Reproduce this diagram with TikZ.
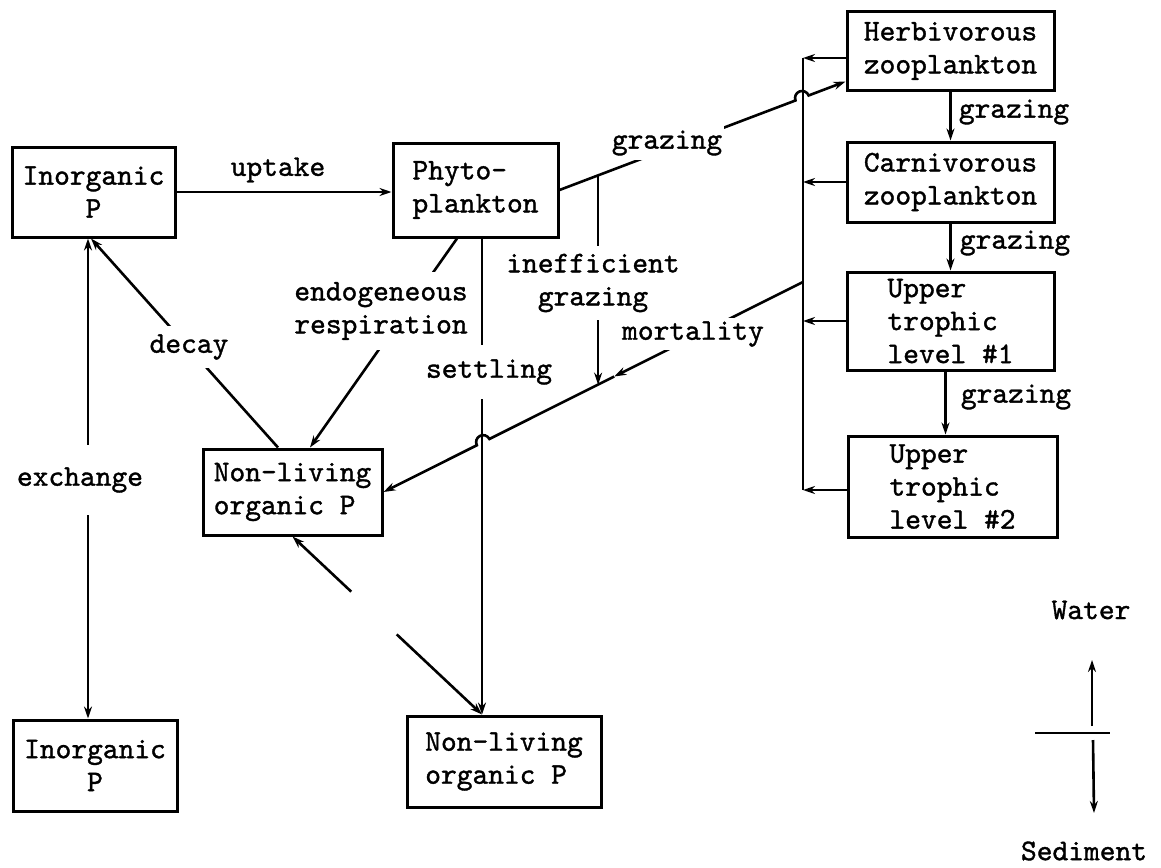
\documentclass[tikz,border=0pt]{standalone}
\usepackage{fontspec}
\setmonofont{lmmono10-regular.otf}[FakeBold=1.2]
\usetikzlibrary{calc,arrows.meta}
\begin{document}
\begin{tikzpicture}[x=1pt,y=-1pt,
  font=\ttfamily\fontsize{30}{33}\selectfont,
  box/.style={draw,line width=3pt,inner sep=3pt,align=left},
  flow/.style={line width=2.6pt},
  tip/.style={-{Stealth[length=12pt,width=8pt]}},
  lbl/.style={fill=white,inner xsep=2pt}
]
\fill[white] (0,0) rectangle (1161,867);
\useasboundingbox (0,0) rectangle (1161,867);

% compartments
\node[box,align=center,minimum width=163pt,minimum height=90pt] (inA) at (93.5,192) {Inorganic\\P};
\node[box,minimum width=165pt,minimum height=94pt] (phy) at (475.5,190) {Phyto-\\plankton};
\node[box,minimum width=207pt,minimum height=78pt] (herb) at (950.5,51) {Herbivorous\\zooplankton};
\node[box,minimum width=207pt,minimum height=80pt] (carn) at (950.5,182) {Carnivorous\\zooplankton};
\node[box,minimum width=207pt,minimum height=98pt] (up1) at (950.5,321) {Upper\\trophic\\level \#1};
\node[box,minimum width=209pt,minimum height=101pt] (up2) at (952.5,486.5) {Upper\\trophic\\level \#2};
\node[box,minimum width=179pt,minimum height=86pt] (nlA) at (292.5,492) {Non-living\\organic P};
\node[box,align=center,minimum width=164pt,minimum height=91pt] (inB) at (95,765.5) {Inorganic\\P};
\node[box,minimum width=194pt,minimum height=91pt] (nlB) at (504,761.5) {Non-living\\organic P};

% helper points
\coordinate (hzIn) at ($(herb.south west)+(0,-10)$);
\coordinate (b1) at (803,58);
\coordinate (b4) at (803,490);
\coordinate (mo) at (803,282);
\coordinate (s1) at ($(phy.south)+(6.5,0)$);
\coordinate (ex) at (88,0);

% uptake
\draw[flow,tip] (inA.east) -- (inA.east -| phy.west);
\node (lup) at (278,170) {uptake};

% grazing on phytoplankton, hopping over the return bus
\draw[flow,tip] (phy.east) -- ($(phy.east)!0.8252!(hzIn)$)
  arc[start angle=200.84,end angle=20.84,radius=7pt] -- (hzIn);

% return bus from the zooplankton and higher levels
\draw[flow] (b1) -- (b4);
\draw[flow,tip] (herb.west |- b1) -- (b1);
\draw[flow,tip] (carn.west) -- (carn.west -| b1);
\draw[flow,tip] (up1.west) -- (up1.west -| b1);
\draw[flow,tip] (up2.west |- b4) -- (b4);

% mortality, hopping over the settling line
\coordinate (mm) at ($(mo)!0.45!(nlA.east)$);
\draw[flow,tip] (mo) -- (mm);
\draw[flow,tip] (mm) -- ($(mo)!0.7476!(nlA.east)$)
  arc[start angle=26.5,end angle=206.5,radius=7pt] -- (nlA.east);

% inefficient grazing
\coordinate (ig1) at ($(phy.east)!0.135!(hzIn)$);
\coordinate (ig2) at ($(mo)!0.489!(nlA.east)$);
\draw[flow,tip] (ig1) -- (ig1 |- ig2);

% endogeneous respiration
\draw[flow,tip] ([xshift=-18.5pt]phy.south) -- ([xshift=17.5pt]nlA.north);

% settling
\draw[flow,tip] (s1) -- (s1 |- nlB.north);

% decay
\draw[flow,tip] ([xshift=-14.5pt]nlA.north) -- ([xshift=-2.5pt]inA.south);

% exchange between water and sediment
\draw[flow,{Stealth[length=12pt,width=8pt]}-{Stealth[length=12pt,width=8pt]}]
  (inA.south -| ex) -- (inB.north -| ex);

% organic P exchange between water and sediment (interrupted line)
\coordinate (d1) at (nlA.south);
\coordinate (d2) at (s1 |- nlB.north);
\draw[flow,tip] ($(d1)!0.31!(d2)$) -- (d1);
\draw[flow,tip] ($(d1)!0.55!(d2)$) -- (d2);

% grazing along the food chain
\draw[flow,tip] (herb.south) -- (carn.north);
\draw[flow,tip] (carn.south) -- (carn.south |- up1.north);
\draw[flow,tip] ([xshift=-5pt]up1.south) -- ([xshift=-5pt]up1.south |- up2.north);
\node (g1) at (1014,112) {grazing};
\node (g2) at (1015,243) {grazing};
\node (g3) at (1016,397) {grazing};

% labels sitting on their lines
\node[lbl,inner ysep=4pt] (lgz) at (667,143) {grazing};
\node[lbl,align=center,inner ysep=8pt] (lig) at (593,283) {inefficient\\grazing};
\node[lbl,inner ysep=3pt] (lmo) at (693,334) {mortality};
\node[lbl,align=center,inner ysep=10pt] (len) at (381,311) {endogeneous\\respiration};
\node[lbl,inner ysep=14pt] (lse) at (489,372) {settling};
\node[lbl,inner ysep=8pt] (lde) at (189,347) {decay};
\node[lbl,inner ysep=22pt] (lex) at (80,480) {exchange};

% water / sediment legend
\coordinate (wl) at (1035,733);
\coordinate (wr) at (1110,733);
\draw[line width=2.6pt] (wl) -- (wr);
\node (water) at (1091,610) {Water};
\node (sed) at (1084,851) {Sediment};
\coordinate (wu0) at (1092,726);
\coordinate (wu1) at (1092,660);
\coordinate (wd0) at (1093,740);
\coordinate (wd1) at (1094,813);
\draw[flow,tip] (wu0) -- (wu1);
\draw[flow,tip] (wd0) -- (wd1);
\end{tikzpicture}
\end{document}
